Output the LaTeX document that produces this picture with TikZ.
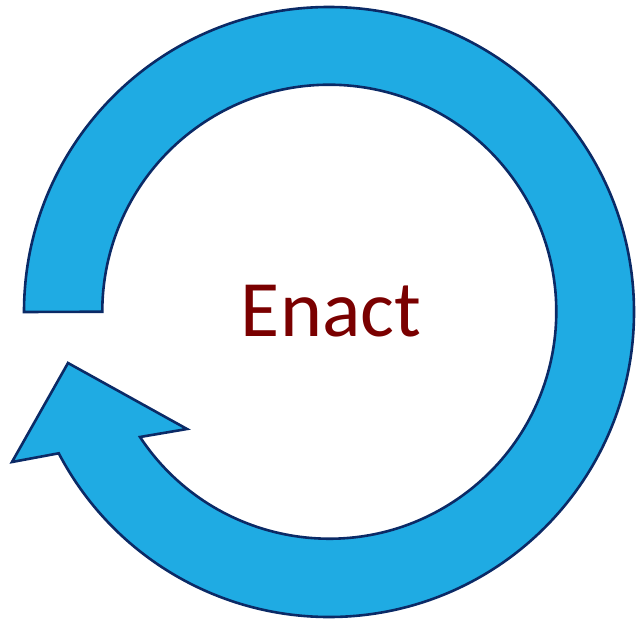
\documentclass[tikz,border=0pt]{standalone}
\usepackage{fontspec}
\setmainfont{Carlito}
\usepackage{tikz}
\usetikzlibrary{calc}

\definecolor{ringfill}{HTML}{1FABE3}
\definecolor{ringedge}{HTML}{0B2A66}
\definecolor{enactred}{HTML}{7A0000}

\begin{document}
\begin{tikzpicture}[x=1pt, y=1pt,
      ring/.style={draw=ringedge, fill=ringfill, line width=2.6pt, line join=miter},
      title/.style={text=enactred, font=\fontsize{80}{96}\selectfont, inner sep=0pt}]
    \useasboundingbox (0,0) rectangle (636,622);
    \coordinate (c) at (329,310);
    % arrow head corners
    \coordinate (outjoin) at (59,169);
    \coordinate (lbarb) at (12,160);
    \coordinate (tip) at (68,259);
    \coordinate (rbarb) at (187,193);
    \coordinate (injoin) at (140,185);
    \draw[ring] ($(c)+(180:305)$) arc[start angle=180, end angle=-152.4, radius=305]
      -- (lbarb) -- (tip) -- (rbarb) -- (injoin)
      arc[start angle=-146.5, end angle=180, radius=227] -- cycle;
    \node[title] (enact) at (331,311) {Enact};
  \end{tikzpicture}
\end{document}
